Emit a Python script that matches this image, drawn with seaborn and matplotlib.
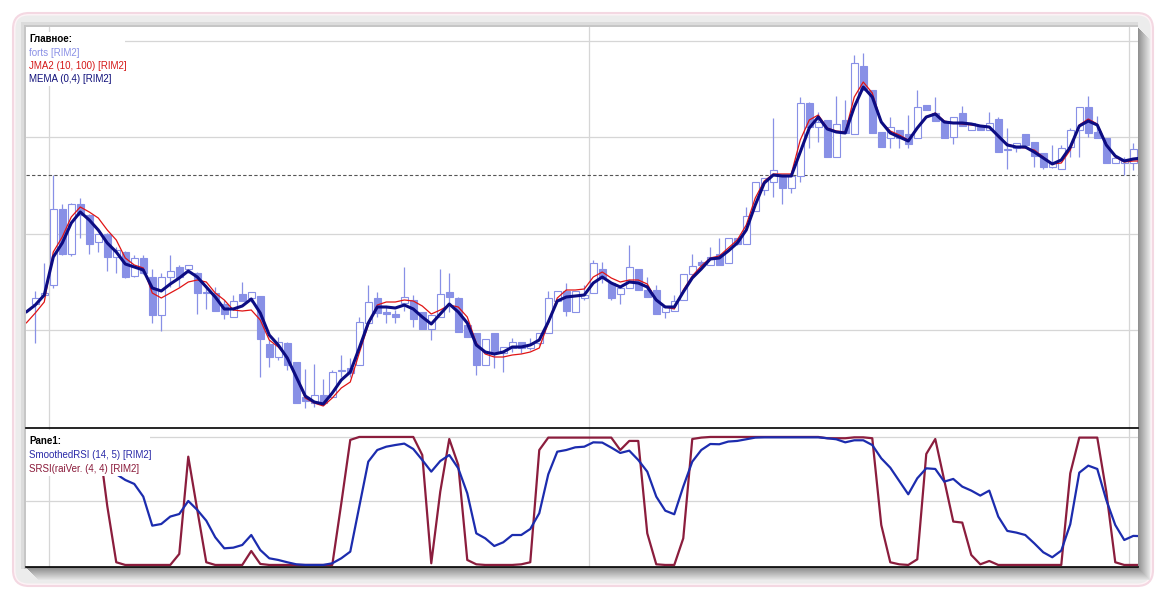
import numpy as np
import pandas as pd
import matplotlib
matplotlib.use("Agg")
import matplotlib.pyplot as plt
from matplotlib.patches import Rectangle, FancyBboxPatch
import seaborn as sns

W, H = 1164, 598

# candles of forts [RIM2], ten bars per row
bar_open = [296, 305, 315, 391, 346, 396, 385, 358, 366, 343,
            348, 324, 342, 323, 285, 323, 333, 331, 327, 307,
            307, 296, 283, 306, 302, 304, 256, 243, 257, 238,
            203, 197, 205, 203, 229, 232, 235, 277, 302, 288,
            286, 297, 300, 288, 271, 283, 308, 302, 275, 267,
            235, 267, 247, 252, 258, 252, 257, 267, 299, 309,
            288, 302, 307, 331, 317, 306, 312, 331, 310, 310,
            288, 289, 300, 326, 338, 335, 346, 337, 362, 356,
            389, 410, 418, 423, 412, 424, 497, 473, 480, 443,
            480, 466, 534, 510, 468, 462, 470, 466, 462, 495,
            487, 479, 463, 487, 470, 475, 470, 481, 450, 452,
            466, 458, 447, 433, 431, 453, 470, 493, 468, 462,
            437, 437, 437]
bar_high = [309, 337, 425, 396, 397, 402, 386, 366, 367, 353,
            349, 345, 345, 331, 327, 345, 335, 335, 328, 315,
            313, 300, 305, 318, 308, 304, 260, 263, 258, 238,
            231, 236, 221, 230, 245, 242, 283, 315, 308, 293,
            290, 333, 305, 288, 285, 331, 327, 303, 275, 267,
            261, 267, 253, 262, 258, 262, 267, 309, 309, 317,
            309, 315, 340, 338, 317, 315, 355, 331, 323, 315,
            293, 305, 326, 346, 340, 353, 362, 362, 362, 393,
            418, 422, 482, 423, 425, 503, 498, 488, 480, 504,
            500, 545, 547, 510, 468, 483, 470, 485, 510, 495,
            503, 479, 483, 494, 477, 475, 488, 483, 472, 457,
            466, 458, 447, 455, 455, 472, 493, 504, 484, 462,
            442, 443, 457]
bar_low = [257, 304, 312, 345, 344, 362, 346, 348, 329, 327,
           322, 323, 326, 277, 269, 313, 313, 327, 286, 291,
           289, 281, 283, 299, 298, 223, 233, 240, 230, 197,
           192, 193, 195, 203, 223, 223, 235, 277, 283, 277,
           277, 289, 273, 271, 260, 283, 288, 268, 263, 225,
           235, 232, 228, 248, 247, 250, 255, 267, 299, 284,
           288, 300, 307, 317, 300, 296, 312, 310, 303, 286,
           282, 289, 300, 326, 333, 335, 335, 337, 355, 356,
           389, 405, 403, 396, 407, 418, 452, 458, 443, 443,
           467, 466, 510, 467, 453, 452, 452, 452, 462, 490,
           479, 462, 456, 474, 470, 470, 470, 448, 431, 448,
           453, 433, 431, 432, 431, 443, 443, 463, 462, 437,
           437, 425, 430]
bar_close = [302, 307, 391, 346, 396, 385, 356, 366, 343, 350,
             323, 342, 327, 285, 323, 329, 323, 335, 307, 308,
             289, 286, 299, 299, 308, 261, 243, 258, 235, 197,
             199, 205, 197, 228, 230, 227, 278, 298, 287, 286,
             283, 303, 281, 271, 285, 306, 303, 268, 263, 235,
             261, 247, 253, 258, 252, 256, 267, 302, 309, 289,
             309, 305, 337, 323, 302, 312, 333, 310, 303, 286,
             293, 299, 326, 334, 335, 343, 335, 362, 356, 384,
             418, 422, 430, 412, 424, 497, 473, 478, 443, 476,
             467, 537, 510, 467, 453, 473, 462, 456, 493, 490,
             479, 462, 483, 474, 477, 470, 477, 448, 451, 457,
             455, 444, 433, 437, 452, 470, 493, 467, 462, 437,
             442, 441, 451]

# indicator lines start one bar before the first visible candle
line_idx = list(range(-1, 124))
mema = [288,
        295, 305, 343, 357, 377, 388, 380, 370, 357, 348,
        336, 333, 330, 312, 309, 316, 322, 329, 323, 313,
        303, 291, 291, 294, 301, 287, 265, 255, 242, 223,
        204, 198, 196, 207, 220, 228, 252, 277, 293, 293,
        292, 295, 291, 283, 276, 286, 296, 288, 277, 255,
        248, 246, 248, 253, 253, 255, 260, 278, 299, 303,
        304, 305, 317, 323, 317, 313, 318, 317, 313, 300,
        293, 293, 308, 322, 331, 341, 342, 349, 357, 370,
        395, 417, 425, 424, 424, 448, 472, 483, 471, 468,
        467, 493, 513, 503, 478, 467, 463, 459, 472, 483,
        486, 478, 477, 477, 476, 474, 473, 464, 455, 453,
        453, 448, 442, 436, 440, 453, 474, 479, 475, 455,
        444, 439, 441, 442]
jma2 = [277,
        287, 298, 348, 363, 383, 393, 388, 382, 370, 360,
        342, 335, 332, 307, 302, 307, 312, 318, 320, 318,
        307, 300, 290, 289, 290, 280, 260, 253, 243, 223,
        202, 197, 194, 202, 212, 218, 247, 275, 295, 298,
        298, 300, 299, 294, 286, 290, 295, 293, 283, 257,
        246, 243, 243, 245, 246, 248, 252, 277, 302, 310,
        310, 311, 323, 328, 322, 318, 320, 320, 316, 300,
        293, 291, 310, 324, 334, 342, 344, 352, 360, 375,
        402, 419, 426, 426, 426, 460, 480, 485, 472, 469,
        468, 503, 518, 507, 478, 469, 465, 460, 472, 483,
        487, 479, 477, 476, 475, 474, 473, 463, 456, 453,
        452, 450, 443, 436, 437, 450, 475, 481, 476, 456,
        443, 438, 439, 439]

smoothed_rsi = [80,
                84, 88, 90, 91, 90, 88, 85, 80, 76, 71,
                66.4, 63.3, 53.4, 30.7, 32, 37.8, 39.8, 50, 43, 34.6,
                21.6, 13, 13.5, 15.6, 23.4, 11.7, 5.2, 3.9, 2.1, 0.5,
                0, 0, 0, 1.3, 5.2, 10.4, 45.6, 80.7, 89.8, 92.4,
                93.7, 94.8, 90.6, 82, 72.9, 81.2, 85.9, 75.5, 56, 24.7,
                20.8, 14.8, 17.7, 23.4, 23.4, 28.1, 40.4, 70.8, 88.5, 89.8,
                91.9, 92.4, 95.8, 95.6, 91.7, 87.5, 89.3, 82, 72.9, 53.4,
                42.4, 39.6, 61.2, 80.7, 89.8, 94.5, 94.3, 96.4, 96.9, 98.2,
                99.5, 99.7, 99.7, 99.7, 99.7, 99.7, 99.7, 99.7, 99, 98.2,
                95.8, 97.4, 97.4, 93.7, 83.3, 76, 65.6, 55.2, 67.7, 75.5,
                75, 65.1, 67.2, 61.2, 58.1, 54.2, 58.1, 37.8, 26.6, 25.3,
                23.4, 16.9, 9.9, 6, 11.2, 31.8, 72.1, 77.6, 75, 50.8,
                31.2, 19.5, 22.7, 22.5]
srsi = [100,
        100, 100, 100, 100, 100, 100, 100, 100, 46, 2.1,
        0, 0, 0, 0, 0, 0, 8.6, 84.6, 43, 2.1,
        0, 0, 0, 0, 10.9, 0.8, 0, 0, 0, 0,
        0, 0, 0, 0, 48, 97.7, 100, 100, 100, 100,
        100, 100, 100, 85.9, 1.3, 57.3, 98.4, 78.1, 3.9, 0.5,
        0, 0, 0, 0, 0.5, 2.1, 89.8, 99.5, 99.5, 99.5,
        99.5, 99.5, 99.5, 99.5, 99.5, 89.8, 96.9, 96.9, 24.7, 0.5,
        0, 0, 20.8, 98.4, 99.5, 100, 100, 100, 100, 100,
        100, 100, 100, 100, 100, 100, 100, 100, 99, 99,
        99, 99.7, 99.7, 99, 31.2, 2.1, 0.5, 0, 4.4, 86.7,
        98.4, 66.1, 33.9, 33.1, 7.8, 0.5, 3.1, 0, 0, 0,
        0, 0, 0, 0, 0, 71.6, 99.5, 99.5, 99.5, 57.3,
        2.1, 0, 0, 0]

price_grid = [270, 366.5, 463, 559.5]
last_price = 425
rsi_grid = [50, 100]
day_breaks = [1.55, 61.55, 121.55]

CANDLE = '#8890e6'
GRID = '#d6d6d6'

sns.set_style("white")
plt.rcParams['font.family'] = ['Liberation Sans', 'DejaVu Sans']

fig = plt.figure(figsize=(W / 100, H / 100), dpi=100)
fig.patch.set_facecolor('white')

# window frame drawn in pixel units on a background axes
bg = fig.add_axes([0, 0, 1, 1], zorder=-10)
bg.set_xlim(0, W)
bg.set_ylim(H, 0)
bg.axis('off')
bg.add_patch(FancyBboxPatch((13, 13), 1140, 573, boxstyle='round,pad=0,rounding_size=16',
                            fc='#fdf3f6', ec='#f4d8e2', lw=1.5))
bg.add_patch(FancyBboxPatch((15.5, 15.5), 1135, 568, boxstyle='round,pad=0,rounding_size=13',
                            fc='#ececec', ec='none'))
bg.add_patch(Rectangle((21, 22), 1117, 547, fc='#dcdcdc', ec='none'))
bg.add_patch(Rectangle((24, 25), 1114, 544, fc='#c6c6c6', ec='none'))
for k in range(12, -1, -1):
    g = int(138 + k * 7.5)
    bg.add_patch(Rectangle((26 + k, 27 + k), 1111.5, 541, fc=f'#{g:02x}{g:02x}{g:02x}', ec='none'))

left = 26 / W
width = 1111.5 / W
ax = fig.add_axes([left, 1 - 428 / H, width, (428 - 27) / H])
ax2 = fig.add_axes([left, 1 - 567 / H, width, (567 - 428) / H])

bars = pd.DataFrame({'open': bar_open, 'high': bar_high, 'low': bar_low, 'close': bar_close})
bars['idx'] = np.arange(len(bars))
rising = bars['close'] >= bars['open']
body_lo = bars[['open', 'close']].min(axis=1)
body_h = (bars['close'] - bars['open']).abs().clip(lower=0.9)

for a in (ax, ax2):
    a.set_facecolor('white')
    a.set_xlim(-1.03, 122.47)
    a.set_xticks([])
    a.set_yticks([])
    for x in day_breaks:
        a.axvline(x, color=GRID, lw=0.9, zorder=1)

# main pane
for y in price_grid:
    ax.axhline(y, color=GRID, lw=0.9, zorder=1)
ax.axhline(last_price, color='#555555', lw=0.8, ls=(0, (3, 2)), zorder=2)
ax.vlines(bars['idx'], bars['low'], bars['high'], color=CANDLE, lw=0.9, zorder=3)
ax.bar(bars['idx'], body_h, bottom=body_lo, width=0.72,
       color=np.where(rising, 'white', CANDLE), edgecolor=CANDLE, linewidth=0.8, zorder=4)
sns.lineplot(x=line_idx, y=jma2, ax=ax, color='#e01515', linewidth=0.9, zorder=5)
sns.lineplot(x=line_idx, y=mema, ax=ax, color='#0c0c82', linewidth=2.2, zorder=6)
ax.set_ylim(172, 573)
for s in ax.spines.values():
    s.set_visible(False)
ax.add_patch(Rectangle((0, 0.853), 0.089, 0.135, transform=ax.transAxes, fc='white', ec='none', zorder=7))

# oscillator pane
for y in rsi_grid:
    ax2.axhline(y, color=GRID, lw=0.9, zorder=1)
sns.lineplot(x=line_idx, y=srsi, ax=ax2, color='#8b1d3d', linewidth=1.6, zorder=5)
sns.lineplot(x=line_idx, y=smoothed_rsi, ax=ax2, color='#1c2cae', linewidth=1.6, zorder=6)
ax2.set_ylim(-1.6, 107)
ax2.spines['left'].set_visible(False)
ax2.spines['right'].set_visible(False)
for side in ('top', 'bottom'):
    ax2.spines[side].set_color('black')
    ax2.spines[side].set_linewidth(1.2)
ax2.add_patch(Rectangle((0, 0.655), 0.1116, 0.33, transform=ax2.transAxes, fc='white', ec='none', zorder=7))
for a in (ax, ax2):
    a.set_xlabel('')
    a.set_ylabel('')

labels = [
    ('Главное:', 39, 'black', 'bold'),
    ('forts [RIM2]', 52.5, '#8a90e6', 'normal'),
    ('JMA2 (10, 100) [RIM2]', 66, '#d41818', 'normal'),
    ('MEMA (0,4) [RIM2]', 79.5, '#10107a', 'normal'),
    ('Pane1:', 441.5, 'black', 'bold'),
    ('SmoothedRSI (14, 5) [RIM2]', 455, '#2a2aa8', 'normal'),
    ('SRSI(raiVer. (4, 4) [RIM2]', 469, '#8a1a3a', 'normal'),
]
for text, y, color, weight in labels:
    fig.text(29 / W, 1 - y / H, text, color=color, fontsize=7, fontweight=weight,
             ha='left', va='center', zorder=10)

fig.savefig('out.png', dpi=100)
